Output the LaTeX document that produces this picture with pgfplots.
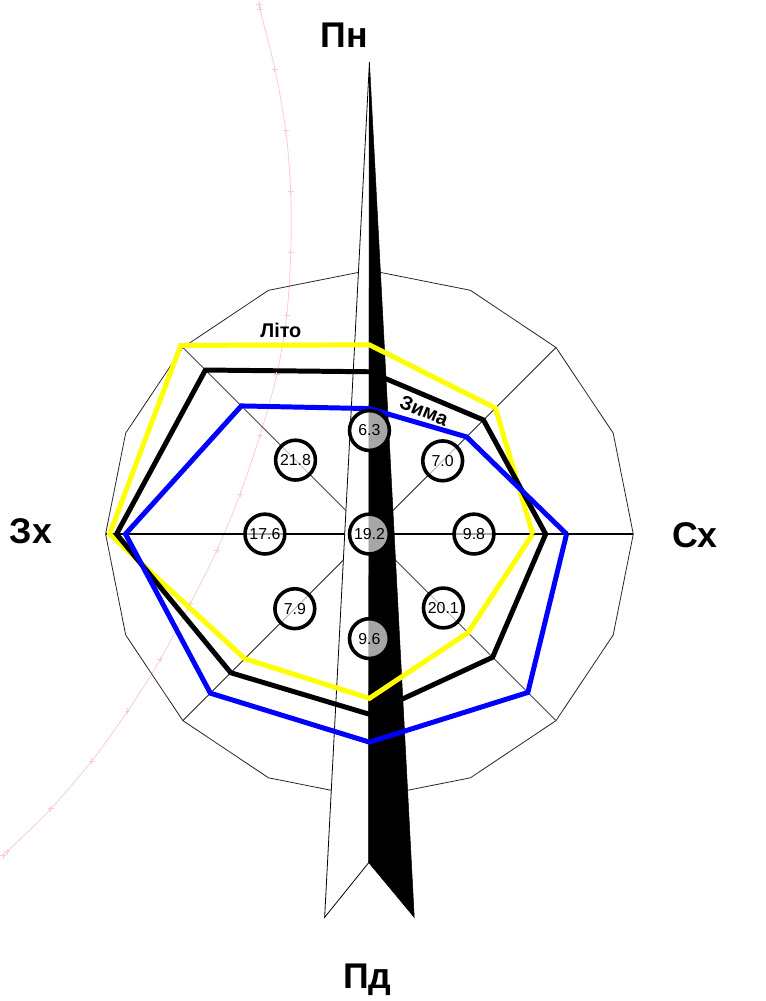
\documentclass[border=0pt]{standalone}
\usepackage{fontspec}
\setmainfont{Liberation Sans}
\usepackage{pgfplots}
\pgfplotsset{compat=1.18}
\definecolor{arcpink}{RGB}{250,205,205}
\definecolor{ryellow}{RGB}{255,255,0}
\definecolor{rblue}{RGB}{0,0,255}
\begin{document}
\begin{tikzpicture}
\begin{axis}[
  width=766bp, height=1001bp, scale only axis,
  xmin=-368, xmax=398, ymin=-469, ymax=532,
  hide axis, clip=false,
]
\path (rel axis cs:0,0) rectangle (rel axis cs:1,1);

% faint pink map arc
\addplot[smooth, color=arcpink, line width=0.8bp, mark=+, mark size=3bp] coordinates {
 (-111,532) (-110,527) (-95,467) (-84,405) (-79,344) (-79,283) (-83,220) (-93,160)
 (-110,99) (-130,40) (-153,-16) (-180,-70) (-210,-126) (-243,-178) (-279,-228)
 (-320,-276) (-364,-319) (-368,-323)};

% outer 16-gon grid
\addplot[data cs=polar, line width=0.8bp, color=black!85] coordinates {
 (0,265) (22.5,265) (45,265) (67.5,265) (90,265) (112.5,265) (135,265) (157.5,265)
 (180,265) (202.5,265) (225,265) (247.5,265) (270,265) (292.5,265) (315,265) (337.5,265) (360,265)};
% diagonals
\addplot[data cs=polar, line width=0.8bp, color=black!85] coordinates {(45,265) (225,265)};
\addplot[data cs=polar, line width=0.8bp, color=black!85] coordinates {(135,265) (315,265)};
% west-east axis
\addplot[data cs=polar, line width=2.5bp, color=black] coordinates {(0,265) (180,265)};

% north arrow
\addplot[draw=black, line width=0.8bp, fill=white] coordinates {(0,474) (-45,-385) (-0.7,-330)} -- cycle;
\addplot[draw=black, line width=0.5bp, fill=black] coordinates {(0,474) (45,-385) (-0.7,-330)} -- cycle;

% summer (yellow)
\addplot[data cs=polar, line width=5bp, color=ryellow, line join=miter] coordinates {
 (0,164) (45,179) (90,190) (135,268) (180,261) (225,177) (270,165) (315,140) (360,164)};
% annual (black)
\addplot[data cs=polar, line width=5bp, color=black, line join=miter] coordinates {
 (0,177) (45,162) (90,163) (135,233) (180,254) (225,197) (270,181) (315,175) (360,177)};
% winter (blue)
\addplot[data cs=polar, line width=5bp, color=rblue, line join=miter] coordinates {
 (0,198) (45,138) (90,126) (135,182) (180,245) (225,226) (270,209) (315,225) (360,198)};

% frequency circles
\addplot[data cs=polar, only marks, mark=*, mark size=0.5bp,
  mark options={draw opacity=0, fill opacity=0},
  point meta=explicit symbolic, nodes near coords, nodes near coords align=center,
  every node near coord/.append style={anchor=center, circle, draw=black, line width=3.6bp,
    minimum size=40bp, inner sep=0pt, fill=white, fill opacity=0.65, draw opacity=1, text opacity=1,
    font=\fontsize{16}{16}\selectfont, text=black}]
 coordinates {
 (90,104) [6.3] (45,104) [7.0] (0,105) [9.8] (315,105) [20.1]
 (270,105) [9.6] (225,106) [7.9] (180,105) [17.6] (135,105) [21.8] (0,0) [19.2]};

% labels
\node[anchor=base, font=\fontsize{36}{36}\selectfont\bfseries] at (axis cs:-25,489) {Пн};
\node[anchor=base, font=\fontsize{36}{36}\selectfont\bfseries] at (axis cs:-2,-456) {Пд};
\node[anchor=base, font=\fontsize{36}{36}\selectfont\bfseries] at (axis cs:-340,-9) {Зх};
\node[anchor=base, font=\fontsize{36}{36}\selectfont\bfseries] at (axis cs:327,-14) {Сх};
\node[font=\fontsize{20}{20}\selectfont\bfseries] at (axis cs:-89,205) {Літо};
\node[font=\fontsize{20}{20}\selectfont\bfseries, rotate=-22] at (axis cs:55,124) {Зима};
\end{axis}
\end{tikzpicture}
\end{document}
